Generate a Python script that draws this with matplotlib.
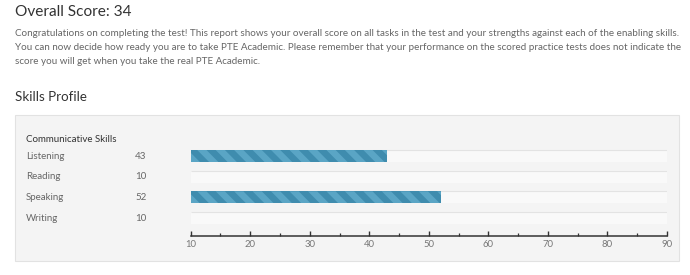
import numpy as np
import matplotlib.pyplot as plt
import matplotlib.transforms as mtransforms
from matplotlib.patches import Rectangle, Polygon

# данные
overall = 34
skills = ["Listening", "Reading", "Speaking", "Writing"]
scores = [43, 10, 52, 10]
x_min, x_max = 10, 90
major_ticks = [10, 20, 30, 40, 50, 60, 70, 80, 90]
minor_ticks = [15, 25, 35, 45, 55, 65, 75, 85]

intro = [
    "Congratulations on completing the test! This report shows your overall score on all tasks in the test and your strengths against each of the enabling skills.",
    "You can now decide how ready you are to take PTE Academic. Please remember that your performance on the scored practice tests does not indicate the",
    "score you will get when you take the real PTE Academic.",
]

W, H = 690, 275
plt.rcParams['font.family'] = ['Lato', 'DejaVu Sans']

fig = plt.figure(figsize=(W / 100, H / 100), dpi=100)
fig.patch.set_facecolor('white')


def fx(px):
    return px / W


def fy(py):
    return 1 - py / H


# заголовки и текст
fig.text(fx(15), fy(12), f"Overall Score: {overall}", fontsize=11.1, color='#333333', va='center')
for i, line in enumerate(intro):
    fig.text(fx(15), fy(33 + i * 14), line, fontsize=7.1, color='#666666', va='center')
fig.text(fx(15), fy(97), "Skills Profile", fontsize=9.6, color='#333333', va='center')

# серая панель
panel = Rectangle((fx(15), fy(261)), fx(679) - fx(15), fy(115) - fy(261),
                  transform=fig.transFigure, facecolor='#f4f4f4', edgecolor='#e2e2e2',
                  linewidth=0.8, zorder=-1)
fig.patches.append(panel)

fig.text(fx(26), fy(139), "Communicative Skills", fontsize=7, color='#333333', va='center')

# область графика
left, right = 190.7, 667
top, bottom = 145.7, 236
ax = fig.add_axes([fx(left), fy(bottom), fx(right) - fx(left), fy(top) - fy(bottom)])
ax.set_facecolor('none')
ax.set_zorder(1)

rows = list(range(len(skills)))
bar_h = 0.58

# дорожки
ax.barh(rows, [x_max - x_min] * len(rows), left=x_min, height=bar_h,
        color='#f9f9f9', linewidth=0, zorder=1)
ax.hlines([r - bar_h / 2 for r in rows], x_min, x_max, color='#e3e3e3', linewidth=0.8, zorder=2)

# полосы
bars = ax.barh(rows, [s - x_min for s in scores], left=x_min, height=bar_h,
               color='#3f8cae', linewidth=0, zorder=3)

# диагональная штриховка
period = 3.1   # шаг полос
slant = 2.0    # сдвиг по горизонтали на высоту полосы
for r, sc, patch in zip(rows, scores, bars):
    if sc <= x_min:
        continue
    y_top, y_bot = r - bar_h / 2, r + bar_h / 2
    for a in np.arange(x_min - slant - period, sc, period):
        stripe = Polygon([(a, y_top), (a + period / 2, y_top),
                          (a + period / 2 + slant, y_bot), (a + slant, y_bot)],
                         closed=True, facecolor='#5aa5c5', linewidth=0, zorder=4)
        ax.add_patch(stripe)
        stripe.set_clip_path(patch)

ax.set_xlim(x_min, x_max)
ax.set_ylim(3.87, -0.5)
ax.set_yticks([])
ax.set_xticks(major_ticks)
ax.set_xticks(minor_ticks, minor=True)
ax.tick_params(axis='x', which='major', direction='in', length=3.4, width=1.0,
               color='#333333', labelsize=6.8, labelcolor='#777777', pad=3)
ax.tick_params(axis='x', which='minor', direction='in', length=2.4, width=0.9, color='#333333')
for s in ['top', 'right', 'left']:
    ax.spines[s].set_visible(False)
ax.spines['bottom'].set_color('#333333')
ax.spines['bottom'].set_linewidth(1.1)

# подписи навыков и баллы
tr = mtransforms.blended_transform_factory(fig.transFigure, ax.transData)
for r, name, sc in zip(rows, skills, scores):
    ax.text(fx(26), r, name, transform=tr, fontsize=7, color='#666666', va='center')
    ax.text(fx(146.5), r, str(sc), transform=tr, fontsize=7, color='#666666', va='center', ha='right')

fig.savefig('out.png', dpi=100)
